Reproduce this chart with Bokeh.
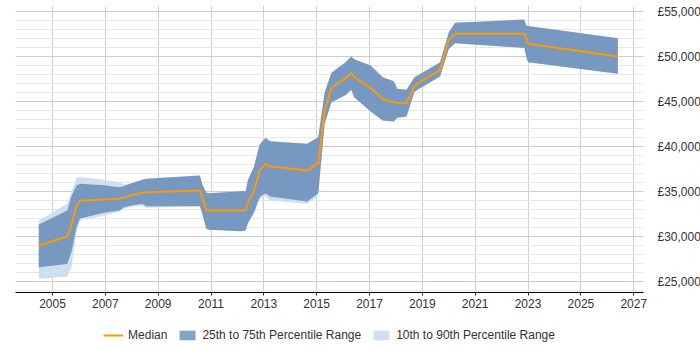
from bokeh.plotting import figure
from bokeh.models import FixedTicker, Legend, LegendItem, Range1d
from bokeh.layouts import column
from bokeh.embed import file_html
from bokeh.resources import INLINE

years = [2004.48, 2005.56, 2005.72, 2005.91, 2006.04, 2006.94, 2007.55, 2007.70, 2008.0, 2008.4,
         2008.55, 2010.58, 2010.67, 2010.82, 2010.92, 2012.12, 2012.31, 2012.40, 2012.62, 2012.84,
         2013.07, 2013.23, 2014.64, 2015.06, 2015.30, 2015.56, 2016.09, 2016.31, 2016.42, 2017.04,
         2017.50, 2017.92, 2018.05, 2018.40, 2018.70, 2018.93, 2019.67, 2020.0, 2020.24, 2022.86,
         2022.93, 2023.0, 2026.40]

median = [29000, 30000, 31300, 33450, 33970, 34100, 34220, 34330, 34600, 34900,
          34930, 35110, 34370, 32890, 32880, 32890, 32890, 33810, 35000, 37330,
          38080, 37810, 37330, 38150, 44000, 46520, 47590, 48150, 47700, 46520,
          45300, 44900, 44860, 44810, 46700, 47200, 48520, 51780, 52520, 52520,
          52100, 51410, 50000]

p75 = [31330, 32890, 34500, 35670, 35860, 35700, 35480, 35600, 35930, 36300,
       36410, 36780, 35800, 34900, 34810, 35040, 35040, 36300, 37700, 40220,
       40970, 40590, 40300, 41040, 46000, 48200, 49370, 50000, 49700, 49000,
       47700, 47260, 46410, 46300, 47700, 48080, 49370, 52700, 53740, 54110,
       53440, 53400, 52040]

p25 = [26590, 26960, 28300, 31040, 32000, 32630, 32900, 33260, 33450, 33630,
       33370, 33370, 32520, 30850, 30740, 30590, 30670, 31500, 32600, 34400,
       34810, 34440, 33890, 34810, 42500, 44930, 45700, 46300, 45480, 43900,
       42900, 42780, 43200, 43330, 46100, 46500, 47780, 50850, 51480, 50960,
       50000, 49370, 48080]

p90 = [31780, 33630, 35000, 36520, 36600, 36300, 36040, 35780, 35930, 36300,
       36410, 36780, 35800, 34900, 34810, 35040, 35040, 36300, 37700, 40220,
       40970, 40590, 40300, 41040, 46000, 48200, 49370, 50000, 49700, 49000,
       47700, 47260, 46410, 46300, 47700, 48080, 49370, 52700, 53740, 54110,
       53440, 53400, 52040]

p10 = [25300, 25560, 26590, 30500, 31800, 32300, 32800, 33100, 33300, 33400,
       33200, 33370, 32520, 30850, 30740, 30590, 30670, 31500, 32600, 34100,
       34500, 34000, 33630, 34500, 42500, 44930, 45700, 46300, 45480, 43900,
       42900, 42780, 43200, 43330, 46100, 46500, 47780, 50850, 51480, 50960,
       50000, 49370, 48080]

x_ticks = [2005, 2007, 2009, 2011, 2013, 2015, 2017, 2019, 2021, 2023, 2025, 2027]
y_ticks = [25000, 30000, 35000, 40000, 45000, 50000, 55000]
y_labels = ["£25,000", "£30,000", "£35,000", "£40,000", "£45,000", "£50,000", "£55,000"]
y_minor = list(range(24000, 56000, 1000))
series_names = ["Median", "25th to 75th Percentile Range", "10th to 90th Percentile Range"]

FONT = "Liberation Sans"
MEDIAN_COLOR = "#FF9900"
IQR_COLOR = "#4572A7"
OUTER_COLOR = "#D0DFEF"

p = figure(frame_width=628, frame_height=287, output_backend="svg", toolbar_location=None,
           y_axis_location="right",
           x_range=Range1d(2003.6, 2027.37), y_range=Range1d(23780, 55670),
           min_border_left=15, min_border_right=57, min_border_top=5, min_border_bottom=28)
p.outline_line_color = None
p.background_fill_color = "white"

p.varea(x=years, y1=p10, y2=p90, fill_color=OUTER_COLOR, fill_alpha=1.0)
p.varea(x=years, y1=p25, y2=p75, fill_color=IQR_COLOR, fill_alpha=0.65)
p.line(x=years, y=median, line_color=MEDIAN_COLOR, line_width=2)

# x axis
xa = p.xaxis[0]
xa.ticker = FixedTicker(ticks=x_ticks)
xa.axis_line_color = "black"
xa.major_tick_line_color = "#333333"
xa.major_tick_out = 3
xa.major_tick_in = 0
xa.minor_tick_line_color = None
xa.major_label_text_font = FONT
xa.major_label_text_font_size = "12px"
xa.major_label_text_color = "#333333"
xa.major_label_standoff = 3

# y axis
ya = p.yaxis[0]
ya.ticker = FixedTicker(ticks=y_ticks, minor_ticks=y_minor)
ya.major_label_overrides = {t: l for t, l in zip(y_ticks, y_labels)}
ya.axis_line_color = None
ya.major_tick_line_color = None
ya.minor_tick_line_color = None
ya.major_label_text_font = FONT
ya.major_label_text_font_size = "12px"
ya.major_label_text_color = "#333333"
ya.major_label_standoff = 8

p.xgrid.ticker = FixedTicker(ticks=x_ticks)
p.xgrid.grid_line_color = "#d0d0d0"
p.ygrid.ticker = FixedTicker(ticks=y_ticks, minor_ticks=y_minor)
p.ygrid.grid_line_color = "#cccccc"
p.ygrid.minor_grid_line_color = "#e8e8e8"

# legend strip below the chart (swatch renderers sit outside its visible range)
lf = figure(frame_width=628, frame_height=30, output_backend="svg", toolbar_location=None,
            x_range=Range1d(0, 1), y_range=Range1d(0, 1),
            x_axis_type=None, y_axis_type=None,
            min_border_left=15, min_border_right=57, min_border_top=0, min_border_bottom=0)
lf.outline_line_color = None
lf.xgrid.visible = False
lf.ygrid.visible = False
lm = lf.line(x=[-10, -9], y=[-10, -9], line_color=MEDIAN_COLOR, line_width=2)
l25 = lf.varea(x=[-10, -9], y1=[-10, -10], y2=[-9, -9], fill_color=IQR_COLOR, fill_alpha=0.65)
l10 = lf.varea(x=[-10, -9], y1=[-10, -10], y2=[-9, -9], fill_color=OUTER_COLOR, fill_alpha=1.0)

legend = Legend(items=[LegendItem(label=series_names[0], renderers=[lm]),
                       LegendItem(label=series_names[1], renderers=[l25]),
                       LegendItem(label=series_names[2], renderers=[l10])],
                orientation="horizontal", location="center")
legend.border_line_color = None
legend.background_fill_alpha = 0
legend.label_text_font = FONT
legend.label_text_font_size = "12px"
legend.label_text_color = "#333333"
legend.glyph_width = 20
legend.glyph_height = 12
legend.label_standoff = 5
legend.spacing = 10
legend.padding = 0
legend.margin = 0
lf.add_layout(legend, "center")

layout = column(p, lf, spacing=0)
open("out.html", "w").write(file_html(layout, INLINE))
